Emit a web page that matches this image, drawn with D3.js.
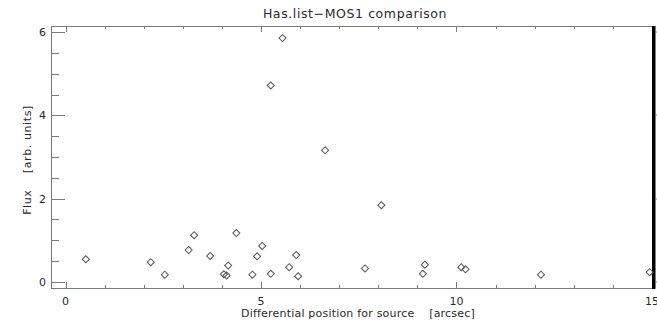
<!DOCTYPE html>
<html>
<head>
<meta charset="utf-8">
<script src="https://cdn.jsdelivr.net/npm/d3@7"></script>
<style>
	body { margin: 0; background: #fff; }
	text { font-family: "DejaVu Sans", sans-serif; fill: #2a2a2a; }
</style>
</head>
<body>
<svg id="chart" width="657" height="322"></svg>
<script>
// values
var offsets = [0.52, 2.18, 2.54, 3.15, 3.29, 3.70, 4.05, 4.12, 4.16, 4.37, 4.78, 4.90, 5.03, 5.25,
	5.72, 5.90, 5.95, 7.66, 8.08, 9.19, 9.14, 10.12, 10.23, 12.16, 14.94, 5.55, 5.25, 6.64];
var fluxes = [0.54, 0.47, 0.17, 0.76, 1.12, 0.62, 0.18, 0.15, 0.39, 1.17, 0.17, 0.61, 0.86, 0.19,
	0.35, 0.64, 0.13, 0.32, 1.84, 0.41, 0.19, 0.35, 0.30, 0.17, 0.23, 5.86, 4.72, 3.16];
var xTickLabels = ["0", "5", "10", "15"];
var yTickLabels = ["0", "2", "4", "6"];

var title = "Has.list\u2212MOS1 comparison",
	xTitle = "Differential position for source\u00a0\u00a0\u00a0\u00a0[arcsec]",
	yTitle = "Flux\u00a0\u00a0\u00a0\u00a0[arb. units]";

var box = { left: 51, right: 652, top: 26, bottom: 288 },
	axisColor = "#7a7a7a";

var svg = d3.select("#chart");

var x = d3.scaleLinear().domain([0, 15]).range([65.5, 652]),
	y = d3.scaleLinear().domain([0, 6]).range([281.7, 32.3]);

var axes = svg.append("g")
	.attr("stroke", axisColor)
	.attr("stroke-width", 1)
	.attr("shape-rendering", "crispEdges");

// frame
axes.append("line").attr("x1", box.left).attr("x2", box.right).attr("y1", box.bottom).attr("y2", box.bottom);
axes.append("line").attr("x1", box.left).attr("x2", box.right).attr("y1", box.top).attr("y2", box.top);
axes.append("line").attr("x1", box.left).attr("x2", box.left).attr("y1", box.top).attr("y2", box.bottom);

// x ticks, every unit, longer at the labelled ones
var xMinor = d3.range(0, 16, 1);
xMinor.forEach(function(v) {
	var len = v % 5 === 0 ? 6 : 3;
	axes.append("line")
		.attr("x1", Math.round(x(v))).attr("x2", Math.round(x(v)))
		.attr("y1", box.bottom).attr("y2", box.bottom - len);
	axes.append("line")
		.attr("x1", Math.round(x(v))).attr("x2", Math.round(x(v)))
		.attr("y1", box.top).attr("y2", box.top + len);
});

// y ticks, every half unit
var yMinor = d3.range(0, 6.01, 0.5);
yMinor.forEach(function(v) {
	var len = v % 2 === 0 ? 14 : 8;
	axes.append("line")
		.attr("x1", box.left).attr("x2", box.left + len)
		.attr("y1", Math.round(y(v))).attr("y2", Math.round(y(v)));
});

// heavy right edge
svg.append("rect")
	.attr("x", box.right).attr("y", box.top)
	.attr("width", 3.5).attr("height", box.bottom - box.top + 1)
	.attr("fill", "#000");

yTickLabels.forEach(function(t) {
	svg.append("line")
		.attr("x1", box.right + 3).attr("x2", 657)
		.attr("y1", Math.round(y(+t))).attr("y2", Math.round(y(+t)))
		.attr("stroke", axisColor);
});

// tick labels
svg.append("g").selectAll("text")
	.data(xTickLabels)
	.join("text")
	.attr("x", function(d) { return x(+d); })
	.attr("y", 305)
	.attr("text-anchor", "middle")
	.attr("font-size", 11)
	.text(function(d) { return d; });

svg.append("g").selectAll("text")
	.data(yTickLabels)
	.join("text")
	.attr("x", 46)
	.attr("y", function(d) { return y(+d) + 4; })
	.attr("text-anchor", "end")
	.attr("font-size", 11)
	.text(function(d) { return d; });

// titles
svg.append("text")
	.attr("x", 355).attr("y", 18)
	.attr("text-anchor", "middle")
	.attr("font-size", 12.5)
	.attr("letter-spacing", 0.6)
	.text(title);

svg.append("text")
	.attr("x", 358).attr("y", 317)
	.attr("text-anchor", "middle")
	.attr("font-size", 11)
	.attr("letter-spacing", 0.2)
	.text(xTitle);

svg.append("text")
	.attr("transform", "translate(31,160) rotate(-90)")
	.attr("text-anchor", "middle")
	.attr("font-size", 11)
	.attr("letter-spacing", 0.6)
	.text(yTitle);

// points as open diamonds
var diamond = d3.symbol().type(d3.symbolSquare).size(25);

svg.append("g").selectAll("path")
	.data(offsets.map(function(v, i) { return [v, fluxes[i]]; }))
	.join("path")
	.attr("d", diamond)
	.attr("transform", function(d) {
		return "translate(" + x(d[0]) + "," + y(d[1]) + ") rotate(45)";
	})
	.attr("fill", "none")
	.attr("stroke", "#555")
	.attr("stroke-width", 1);
</script>
</body>
</html>
